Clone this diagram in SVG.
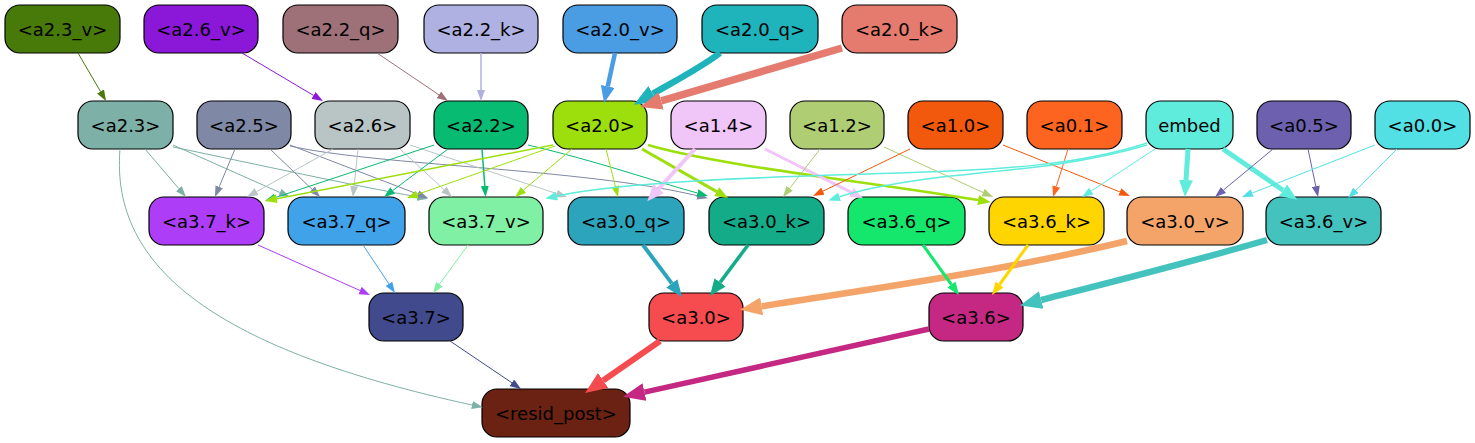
<svg xmlns="http://www.w3.org/2000/svg" width="1475" height="443" viewBox="0 0 1475 443">
<style>
.n rect{stroke:#000;stroke-width:1.2}
.n text{font-family:"DejaVu Sans","Liberation Sans",sans-serif;font-size:18px;text-anchor:middle;fill:#000}
#edges path{fill:none}
</style>
<defs>
<marker id="a1-4a7a0a" markerUnits="userSpaceOnUse" markerWidth="11" markerHeight="8" viewBox="0 0 11 8" refX="0" refY="4" orient="auto"><path d="M0,0L11,4L0,8z" fill="#4a7a0a"/></marker>
<marker id="a1-8b18d8" markerUnits="userSpaceOnUse" markerWidth="11" markerHeight="8" viewBox="0 0 11 8" refX="0" refY="4" orient="auto"><path d="M0,0L11,4L0,8z" fill="#8b18d8"/></marker>
<marker id="a1-9e7178" markerUnits="userSpaceOnUse" markerWidth="11" markerHeight="8" viewBox="0 0 11 8" refX="0" refY="4" orient="auto"><path d="M0,0L11,4L0,8z" fill="#9e7178"/></marker>
<marker id="a1-aeb1e0" markerUnits="userSpaceOnUse" markerWidth="11" markerHeight="8" viewBox="0 0 11 8" refX="0" refY="4" orient="auto"><path d="M0,0L11,4L0,8z" fill="#aeb1e0"/></marker>
<marker id="a3-4a9de3" markerUnits="userSpaceOnUse" markerWidth="17" markerHeight="14" viewBox="0 0 17 14" refX="0" refY="7" orient="auto"><path d="M0,0L17,7L0,14z" fill="#4a9de3"/></marker>
<marker id="a4-1fb3bb" markerUnits="userSpaceOnUse" markerWidth="22" markerHeight="18" viewBox="0 0 22 18" refX="0" refY="9" orient="auto"><path d="M0,0L22,9L0,18z" fill="#1fb3bb"/></marker>
<marker id="a4-e47b6e" markerUnits="userSpaceOnUse" markerWidth="22" markerHeight="18" viewBox="0 0 22 18" refX="0" refY="9" orient="auto"><path d="M0,0L22,9L0,18z" fill="#e47b6e"/></marker>
<marker id="a1-7db0a6" markerUnits="userSpaceOnUse" markerWidth="11" markerHeight="8" viewBox="0 0 11 8" refX="0" refY="4" orient="auto"><path d="M0,0L11,4L0,8z" fill="#7db0a6"/></marker>
<marker id="a1-7f88a4" markerUnits="userSpaceOnUse" markerWidth="11" markerHeight="8" viewBox="0 0 11 8" refX="0" refY="4" orient="auto"><path d="M0,0L11,4L0,8z" fill="#7f88a4"/></marker>
<marker id="a1-b9c5c5" markerUnits="userSpaceOnUse" markerWidth="11" markerHeight="8" viewBox="0 0 11 8" refX="0" refY="4" orient="auto"><path d="M0,0L11,4L0,8z" fill="#b9c5c5"/></marker>
<marker id="a1-08bb72" markerUnits="userSpaceOnUse" markerWidth="11" markerHeight="8" viewBox="0 0 11 8" refX="0" refY="4" orient="auto"><path d="M0,0L11,4L0,8z" fill="#08bb72"/></marker>
<marker id="a1-9ddf0d" markerUnits="userSpaceOnUse" markerWidth="11" markerHeight="8" viewBox="0 0 11 8" refX="0" refY="4" orient="auto"><path d="M0,0L11,4L0,8z" fill="#9ddf0d"/></marker>
<marker id="a1b-9ddf0d" markerUnits="userSpaceOnUse" markerWidth="12" markerHeight="9" viewBox="0 0 12 9" refX="0" refY="4.5" orient="auto"><path d="M0,0L12,4.5L0,9z" fill="#9ddf0d"/></marker>
<marker id="a2-9ddf0d" markerUnits="userSpaceOnUse" markerWidth="13" markerHeight="10" viewBox="0 0 13 10" refX="0" refY="5" orient="auto"><path d="M0,0L13,5L0,10z" fill="#9ddf0d"/></marker>
<marker id="a3-f0c5f8" markerUnits="userSpaceOnUse" markerWidth="17" markerHeight="14" viewBox="0 0 17 14" refX="0" refY="7" orient="auto"><path d="M0,0L17,7L0,14z" fill="#f0c5f8"/></marker>
<marker id="a2-f0c5f8" markerUnits="userSpaceOnUse" markerWidth="13" markerHeight="10" viewBox="0 0 13 10" refX="0" refY="5" orient="auto"><path d="M0,0L13,5L0,10z" fill="#f0c5f8"/></marker>
<marker id="a1-afcd72" markerUnits="userSpaceOnUse" markerWidth="11" markerHeight="8" viewBox="0 0 11 8" refX="0" refY="4" orient="auto"><path d="M0,0L11,4L0,8z" fill="#afcd72"/></marker>
<marker id="a1-f2590c" markerUnits="userSpaceOnUse" markerWidth="11" markerHeight="8" viewBox="0 0 11 8" refX="0" refY="4" orient="auto"><path d="M0,0L11,4L0,8z" fill="#f2590c"/></marker>
<marker id="a1-fd6420" markerUnits="userSpaceOnUse" markerWidth="11" markerHeight="8" viewBox="0 0 11 8" refX="0" refY="4" orient="auto"><path d="M0,0L11,4L0,8z" fill="#fd6420"/></marker>
<marker id="a1-60ecdd" markerUnits="userSpaceOnUse" markerWidth="11" markerHeight="8" viewBox="0 0 11 8" refX="0" refY="4" orient="auto"><path d="M0,0L11,4L0,8z" fill="#60ecdd"/></marker>
<marker id="a1b-60ecdd" markerUnits="userSpaceOnUse" markerWidth="12" markerHeight="9" viewBox="0 0 12 9" refX="0" refY="4.5" orient="auto"><path d="M0,0L12,4.5L0,9z" fill="#60ecdd"/></marker>
<marker id="a3-60ecdd" markerUnits="userSpaceOnUse" markerWidth="17" markerHeight="14" viewBox="0 0 17 14" refX="0" refY="7" orient="auto"><path d="M0,0L17,7L0,14z" fill="#60ecdd"/></marker>
<marker id="a1-6c60af" markerUnits="userSpaceOnUse" markerWidth="11" markerHeight="8" viewBox="0 0 11 8" refX="0" refY="4" orient="auto"><path d="M0,0L11,4L0,8z" fill="#6c60af"/></marker>
<marker id="a1-52e0e4" markerUnits="userSpaceOnUse" markerWidth="11" markerHeight="8" viewBox="0 0 11 8" refX="0" refY="4" orient="auto"><path d="M0,0L11,4L0,8z" fill="#52e0e4"/></marker>
<marker id="a1-ad3df6" markerUnits="userSpaceOnUse" markerWidth="11" markerHeight="8" viewBox="0 0 11 8" refX="0" refY="4" orient="auto"><path d="M0,0L11,4L0,8z" fill="#ad3df6"/></marker>
<marker id="a1-40a2e8" markerUnits="userSpaceOnUse" markerWidth="11" markerHeight="8" viewBox="0 0 11 8" refX="0" refY="4" orient="auto"><path d="M0,0L11,4L0,8z" fill="#40a2e8"/></marker>
<marker id="a1-80f0a4" markerUnits="userSpaceOnUse" markerWidth="11" markerHeight="8" viewBox="0 0 11 8" refX="0" refY="4" orient="auto"><path d="M0,0L11,4L0,8z" fill="#80f0a4"/></marker>
<marker id="a3-2ca4bc" markerUnits="userSpaceOnUse" markerWidth="17" markerHeight="14" viewBox="0 0 17 14" refX="0" refY="7" orient="auto"><path d="M0,0L17,7L0,14z" fill="#2ca4bc"/></marker>
<marker id="a3-14ac88" markerUnits="userSpaceOnUse" markerWidth="17" markerHeight="14" viewBox="0 0 17 14" refX="0" refY="7" orient="auto"><path d="M0,0L17,7L0,14z" fill="#14ac88"/></marker>
<marker id="a4-f4a468" markerUnits="userSpaceOnUse" markerWidth="22" markerHeight="18" viewBox="0 0 22 18" refX="0" refY="9" orient="auto"><path d="M0,0L22,9L0,18z" fill="#f4a468"/></marker>
<marker id="a2-14e76c" markerUnits="userSpaceOnUse" markerWidth="13" markerHeight="10" viewBox="0 0 13 10" refX="0" refY="5" orient="auto"><path d="M0,0L13,5L0,10z" fill="#14e76c"/></marker>
<marker id="a2-ffd500" markerUnits="userSpaceOnUse" markerWidth="13" markerHeight="10" viewBox="0 0 13 10" refX="0" refY="5" orient="auto"><path d="M0,0L13,5L0,10z" fill="#ffd500"/></marker>
<marker id="a4-44c3be" markerUnits="userSpaceOnUse" markerWidth="22" markerHeight="18" viewBox="0 0 22 18" refX="0" refY="9" orient="auto"><path d="M0,0L22,9L0,18z" fill="#44c3be"/></marker>
<marker id="a1-414a8c" markerUnits="userSpaceOnUse" markerWidth="11" markerHeight="8" viewBox="0 0 11 8" refX="0" refY="4" orient="auto"><path d="M0,0L11,4L0,8z" fill="#414a8c"/></marker>
<marker id="a4-f64b4f" markerUnits="userSpaceOnUse" markerWidth="22" markerHeight="18" viewBox="0 0 22 18" refX="0" refY="9" orient="auto"><path d="M0,0L22,9L0,18z" fill="#f64b4f"/></marker>
<marker id="a4-c42883" markerUnits="userSpaceOnUse" markerWidth="22" markerHeight="18" viewBox="0 0 22 18" refX="0" refY="9" orient="auto"><path d="M0,0L22,9L0,18z" fill="#c42883"/></marker>
</defs>
<rect width="1475" height="443" fill="#fff"/>
<g id="nodes">
<g id="a2.3_v" class="n"><rect x="5" y="5" width="115" height="48" rx="15" fill="#487a0a"/><text x="62.5" y="35.5">&lt;a2.3_v&gt;</text></g>
<g id="a2.6_v" class="n"><rect x="144" y="5" width="114" height="48" rx="15" fill="#8b17d9"/><text x="201" y="35.5">&lt;a2.6_v&gt;</text></g>
<g id="a2.2_q" class="n"><rect x="283" y="5" width="115" height="48" rx="15" fill="#9e7178"/><text x="340.5" y="35.5">&lt;a2.2_q&gt;</text></g>
<g id="a2.2_k" class="n"><rect x="424" y="5" width="114" height="48" rx="15" fill="#afb1e2"/><text x="481" y="35.5">&lt;a2.2_k&gt;</text></g>
<g id="a2.0_v" class="n"><rect x="563" y="5" width="114" height="48" rx="15" fill="#4a9de3"/><text x="620" y="35.5">&lt;a2.0_v&gt;</text></g>
<g id="a2.0_q" class="n"><rect x="702" y="5" width="116" height="48" rx="15" fill="#1fb3bc"/><text x="760" y="35.5">&lt;a2.0_q&gt;</text></g>
<g id="a2.0_k" class="n"><rect x="842" y="5" width="115" height="48" rx="15" fill="#e47b6e"/><text x="899.5" y="35.5">&lt;a2.0_k&gt;</text></g>
<g id="a2.3" class="n"><rect x="78" y="101" width="95" height="48" rx="15" fill="#7db0a6"/><text x="125.5" y="131.5">&lt;a2.3&gt;</text></g>
<g id="a2.5" class="n"><rect x="197" y="101" width="94" height="48" rx="15" fill="#7f88a4"/><text x="244" y="131.5">&lt;a2.5&gt;</text></g>
<g id="a2.6" class="n"><rect x="315" y="101" width="95" height="48" rx="15" fill="#b9c5c5"/><text x="362.5" y="131.5">&lt;a2.6&gt;</text></g>
<g id="a2.2" class="n"><rect x="434" y="101" width="94" height="48" rx="15" fill="#08bb72"/><text x="481" y="131.5">&lt;a2.2&gt;</text></g>
<g id="a2.0" class="n"><rect x="553" y="101" width="94" height="48" rx="15" fill="#9ddf0d"/><text x="600" y="131.5">&lt;a2.0&gt;</text></g>
<g id="a1.4" class="n"><rect x="671" y="101" width="95" height="48" rx="15" fill="#f0c5f8"/><text x="718.5" y="131.5">&lt;a1.4&gt;</text></g>
<g id="a1.2" class="n"><rect x="790" y="101" width="94" height="48" rx="15" fill="#afcd72"/><text x="837" y="131.5">&lt;a1.2&gt;</text></g>
<g id="a1.0" class="n"><rect x="908" y="101" width="95" height="48" rx="15" fill="#f2590c"/><text x="955.5" y="131.5">&lt;a1.0&gt;</text></g>
<g id="a0.1" class="n"><rect x="1027" y="101" width="95" height="48" rx="15" fill="#fd6420"/><text x="1074.5" y="131.5">&lt;a0.1&gt;</text></g>
<g id="embed" class="n"><rect x="1146" y="101" width="87" height="48" rx="15" fill="#60ecdd"/><text x="1189.5" y="131.5">embed</text></g>
<g id="a0.5" class="n"><rect x="1257" y="101" width="94" height="48" rx="15" fill="#6c60af"/><text x="1304" y="131.5">&lt;a0.5&gt;</text></g>
<g id="a0.0" class="n"><rect x="1375" y="101" width="95" height="48" rx="15" fill="#52e0e4"/><text x="1422.5" y="131.5">&lt;a0.0&gt;</text></g>
<g id="a3.7_k" class="n"><rect x="149" y="197" width="115" height="48" rx="15" fill="#ad3df6"/><text x="206.5" y="227.5">&lt;a3.7_k&gt;</text></g>
<g id="a3.7_q" class="n"><rect x="288" y="197" width="117" height="48" rx="15" fill="#40a2e8"/><text x="346.5" y="227.5">&lt;a3.7_q&gt;</text></g>
<g id="a3.7_v" class="n"><rect x="429" y="197" width="114" height="48" rx="15" fill="#80f0a4"/><text x="486" y="227.5">&lt;a3.7_v&gt;</text></g>
<g id="a3.0_q" class="n"><rect x="568" y="197" width="116" height="48" rx="15" fill="#2ca4bc"/><text x="626" y="227.5">&lt;a3.0_q&gt;</text></g>
<g id="a3.0_k" class="n"><rect x="709" y="197" width="115" height="48" rx="15" fill="#14ac88"/><text x="766.5" y="227.5">&lt;a3.0_k&gt;</text></g>
<g id="a3.6_q" class="n"><rect x="848" y="197" width="117" height="48" rx="15" fill="#14e76c"/><text x="906.5" y="227.5">&lt;a3.6_q&gt;</text></g>
<g id="a3.6_k" class="n"><rect x="989" y="197" width="115" height="48" rx="15" fill="#ffd500"/><text x="1046.5" y="227.5">&lt;a3.6_k&gt;</text></g>
<g id="a3.0_v" class="n"><rect x="1127" y="197" width="116" height="48" rx="15" fill="#f4a468"/><text x="1185" y="227.5">&lt;a3.0_v&gt;</text></g>
<g id="a3.6_v" class="n"><rect x="1266" y="197" width="115" height="48" rx="15" fill="#44c3be"/><text x="1323.5" y="227.5">&lt;a3.6_v&gt;</text></g>
<g id="a3.7" class="n"><rect x="369" y="293" width="94" height="48" rx="15" fill="#414a8c"/><text x="416" y="323.5">&lt;a3.7&gt;</text></g>
<g id="a3.0" class="n"><rect x="649" y="293" width="94" height="48" rx="15" fill="#f64b4f"/><text x="696" y="323.5">&lt;a3.0&gt;</text></g>
<g id="a3.6" class="n"><rect x="929" y="293" width="94" height="48" rx="15" fill="#c42883"/><text x="976" y="323.5">&lt;a3.6&gt;</text></g>
<g id="resid_post" class="n"><rect x="482" y="389" width="148" height="48" rx="15" fill="#6c2212"/><text x="556" y="419.5">&lt;resid_post&gt;</text></g>
</g>
<g id="edges">
<path d="M78,53L100.5,91.5" stroke="#4a7a0a" stroke-width="1" marker-end="url(#a1-4a7a0a)"/>
<path d="M242,53L313.5,95.4" stroke="#8b18d8" stroke-width="1" marker-end="url(#a1-8b18d8)"/>
<path d="M377,53L438.9,94.8" stroke="#9e7178" stroke-width="1" marker-end="url(#a1-9e7178)"/>
<path d="M481,53L481,90" stroke="#aeb1e0" stroke-width="1.5" marker-end="url(#a1-aeb1e0)"/>
<path d="M615,53L607.7,86.4" stroke="#4a9de3" stroke-width="4.5" marker-end="url(#a3-4a9de3)"/>
<path d="M720,53C700,68 675,81 652.9,93.8" stroke="#1fb3bb" stroke-width="6.5" marker-end="url(#a4-1fb3bb)"/>
<path d="M842,48L661.2,100.9" stroke="#e47b6e" stroke-width="7.5" marker-end="url(#a4-e47b6e)"/>
<path d="M145,149L178.8,188.6" stroke="#7db0a6" stroke-width="1" marker-end="url(#a1-7db0a6)"/>
<path d="M173,145L279.9,192.5" stroke="#7db0a6" stroke-width="1" marker-end="url(#a1-7db0a6)"/>
<path d="M173,147C260,165 350,185 417.2,196.8" stroke="#7db0a6" stroke-width="1" marker-end="url(#a1-7db0a6)"/>
<path d="M120,149C110,270 220,350 472,405" stroke="#7db0a6" stroke-width="1" marker-end="url(#a1-7db0a6)"/>
<path d="M235,149L219.2,186.8" stroke="#7f88a4" stroke-width="1" marker-end="url(#a1-7f88a4)"/>
<path d="M270,149L312.1,189.4" stroke="#7f88a4" stroke-width="1" marker-end="url(#a1-7f88a4)"/>
<path d="M290,145L417.7,194.1" stroke="#7f88a4" stroke-width="1" marker-end="url(#a1-7f88a4)"/>
<path d="M290,146C380,166 580,168 697.2,195.7" stroke="#7f88a4" stroke-width="1" marker-end="url(#a1-7f88a4)"/>
<path d="M333,149L256.6,191.6" stroke="#b9c5c5" stroke-width="1" marker-end="url(#a1-b9c5c5)"/>
<path d="M358,149L354.1,186.1" stroke="#b9c5c5" stroke-width="1" marker-end="url(#a1-b9c5c5)"/>
<path d="M400,149L443.9,189.5" stroke="#b9c5c5" stroke-width="1" marker-end="url(#a1-b9c5c5)"/>
<path d="M410,145L556.6,193.6" stroke="#b9c5c5" stroke-width="1" marker-end="url(#a1-b9c5c5)"/>
<path d="M434,145L275.4,197.5" stroke="#08bb72" stroke-width="1" marker-end="url(#a1-08bb72)"/>
<path d="M448,149L392.8,190.5" stroke="#08bb72" stroke-width="1" marker-end="url(#a1-08bb72)"/>
<path d="M482,149L484.8,186" stroke="#08bb72" stroke-width="1.5" marker-end="url(#a1-08bb72)"/>
<path d="M528,145C600,162 650,180 697.4,193" stroke="#08bb72" stroke-width="1" marker-end="url(#a1-08bb72)"/>
<path d="M553,145L276.8,198.7" stroke="#9ddf0d" stroke-width="1.5" marker-end="url(#a1b-9ddf0d)"/>
<path d="M555,146L417.4,194.4" stroke="#9ddf0d" stroke-width="1" marker-end="url(#a1-9ddf0d)"/>
<path d="M572,149L523.5,190" stroke="#9ddf0d" stroke-width="1" marker-end="url(#a1-9ddf0d)"/>
<path d="M606,149L615.3,186.3" stroke="#9ddf0d" stroke-width="1" marker-end="url(#a1-9ddf0d)"/>
<path d="M642,149L716.7,191.6" stroke="#9ddf0d" stroke-width="3" marker-end="url(#a2-9ddf0d)"/>
<path d="M648,145C720,166 870,182 978,200" stroke="#9ddf0d" stroke-width="2.5" marker-end="url(#a2-9ddf0d)"/>
<path d="M695,149L658.7,188.6" stroke="#f0c5f8" stroke-width="4" marker-end="url(#a3-f0c5f8)"/>
<path d="M765,149L851.3,192.3" stroke="#f0c5f8" stroke-width="3" marker-end="url(#a2-f0c5f8)"/>
<path d="M820,149L789.7,188.3" stroke="#afcd72" stroke-width="1" marker-end="url(#a1-afcd72)"/>
<path d="M884,147L983,192.5" stroke="#afcd72" stroke-width="1" marker-end="url(#a1-afcd72)"/>
<path d="M910,149L822.9,191.2" stroke="#f2590c" stroke-width="1" marker-end="url(#a1-f2590c)"/>
<path d="M1003,145L1119.8,191.9" stroke="#f2590c" stroke-width="1" marker-end="url(#a1-f2590c)"/>
<path d="M1068,149L1056.3,186.5" stroke="#fd6420" stroke-width="1" marker-end="url(#a1-fd6420)"/>
<path d="M1147,143C1080,165 1000,170 900,173C760,177 620,182 557,196" stroke="#60ecdd" stroke-width="1.5" marker-end="url(#a1b-60ecdd)"/>
<path d="M1147,145C1080,165 1010,170 950,176C900,182 860,190 839.5,196.8" stroke="#60ecdd" stroke-width="1.5" marker-end="url(#a1b-60ecdd)"/>
<path d="M1155,149L1091.2,191" stroke="#60ecdd" stroke-width="1" marker-end="url(#a1-60ecdd)"/>
<path d="M1188,149L1186,180" stroke="#60ecdd" stroke-width="5" marker-end="url(#a3-60ecdd)"/>
<path d="M1223,149L1283.1,190.2" stroke="#60ecdd" stroke-width="5" marker-end="url(#a3-60ecdd)"/>
<path d="M1273,149L1223.5,190" stroke="#6c60af" stroke-width="1" marker-end="url(#a1-6c60af)"/>
<path d="M1308,149L1315.8,186.2" stroke="#6c60af" stroke-width="1" marker-end="url(#a1-6c60af)"/>
<path d="M1375,145L1252.2,193" stroke="#52e0e4" stroke-width="1" marker-end="url(#a1-52e0e4)"/>
<path d="M1397,149L1355.9,190.3" stroke="#52e0e4" stroke-width="1" marker-end="url(#a1-52e0e4)"/>
<path d="M258,245L360,290.5" stroke="#ad3df6" stroke-width="1" marker-end="url(#a1-ad3df6)"/>
<path d="M363,245L388.9,283.8" stroke="#40a2e8" stroke-width="1" marker-end="url(#a1-40a2e8)"/>
<path d="M468,245L439.5,284.1" stroke="#80f0a4" stroke-width="1" marker-end="url(#a1-80f0a4)"/>
<path d="M643,245L671.8,283.4" stroke="#2ca4bc" stroke-width="4" marker-end="url(#a3-2ca4bc)"/>
<path d="M748,245L720.1,282.4" stroke="#14ac88" stroke-width="3.5" marker-end="url(#a3-14ac88)"/>
<path d="M1127,241C1000,272 850,292 761.7,306.3" stroke="#f4a468" stroke-width="6.5" marker-end="url(#a4-f4a468)"/>
<path d="M923,245L951.4,284.5" stroke="#14e76c" stroke-width="3" marker-end="url(#a2-14e76c)"/>
<path d="M1028,245L999.6,284.5" stroke="#ffd500" stroke-width="3" marker-end="url(#a2-ffd500)"/>
<path d="M1267,240C1180,265 1100,285 1041.2,300" stroke="#44c3be" stroke-width="6.5" marker-end="url(#a4-44c3be)"/>
<path d="M450,341L511.9,382.8" stroke="#414a8c" stroke-width="1" marker-end="url(#a1-414a8c)"/>
<path d="M660,341L603.1,380.5" stroke="#f64b4f" stroke-width="6" marker-end="url(#a4-f64b4f)"/>
<path d="M929,329L644.5,392.1" stroke="#c42883" stroke-width="5.5" marker-end="url(#a4-c42883)"/>
</g>
</svg>
